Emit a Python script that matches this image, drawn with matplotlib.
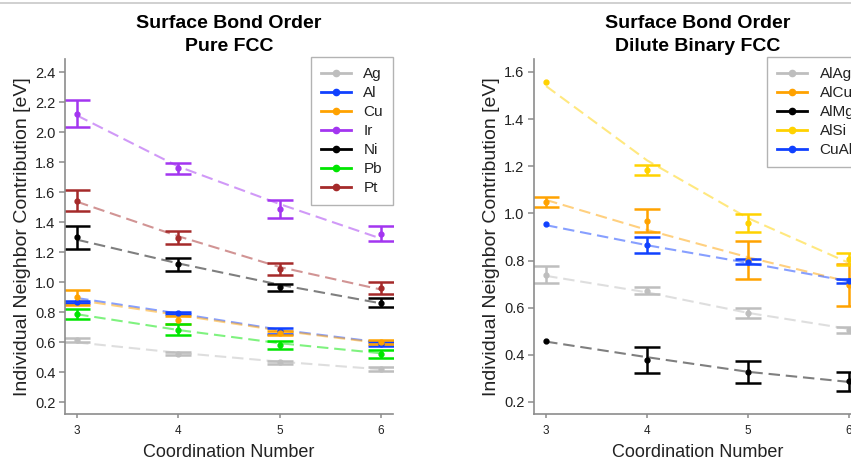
import matplotlib
matplotlib.use("Agg")
import matplotlib.pyplot as plt
from matplotlib.lines import Line2D
import numpy as np

plt.rcParams['font.family'] = ['Liberation Sans', 'DejaVu Sans']

cn = [3, 4, 5, 6]

# pure FCC metals: mean, error half-width, fitted curve
pure_names = ["Ag", "Al", "Cu", "Ir", "Ni", "Pb", "Pt"]
pure_colors = ["#bebebe", "#1041ff", "#ffa200", "#a335f0", "#000000", "#00e600", "#a52a2a"]
ag_mean = [0.613, 0.523, 0.464, 0.420]
ag_err = [0.015, 0.012, 0.011, 0.011]
ag_fit = [0.597, 0.528, 0.469, 0.418]
al_mean = [0.865, 0.792, 0.672, 0.588]
al_err = [0.008, 0.008, 0.020, 0.015]
al_fit = [0.893, 0.790, 0.682, 0.597]
cu_mean = [0.900, 0.747, 0.662, 0.600]
cu_err = [0.050, 0.027, 0.012, 0.013]
cu_fit = [0.880, 0.780, 0.676, 0.592]
ir_mean = [2.122, 1.758, 1.488, 1.322]
ir_err = [0.089, 0.036, 0.061, 0.050]
ir_fit = [2.110, 1.770, 1.520, 1.290]
ni_mean = [1.298, 1.118, 0.965, 0.862]
ni_err = [0.075, 0.045, 0.025, 0.030]
ni_fit = [1.282, 1.124, 0.982, 0.858]
pb_mean = [0.787, 0.682, 0.580, 0.520]
pb_err = [0.035, 0.037, 0.029, 0.026]
pb_fit = [0.785, 0.680, 0.592, 0.525]
pt_mean = [1.542, 1.295, 1.085, 0.960]
pt_err = [0.070, 0.042, 0.040, 0.037]
pt_fit = [1.535, 1.305, 1.100, 0.950]

# dilute binary FCC alloys
dilute_names = ["AlAg", "AlCu", "AlMg", "AlSi", "CuAl"]
dilute_colors = ["#bebebe", "#ffa200", "#000000", "#ffd200", "#1041ff"]
alag_mean = [0.739, 0.672, 0.576, 0.505]
alag_err = [0.036, 0.015, 0.021, 0.012]
alag_fit = [0.735, 0.665, 0.578, 0.510]
alcu_mean = [1.050, 0.968, 0.803, 0.696]
alcu_err = [0.021, 0.049, 0.081, 0.090]
alcu_fit = [1.057, 0.930, 0.814, 0.710]
almg_mean = [0.460, 0.380, 0.326, 0.288]
almg_err = [0.0, 0.055, 0.046, 0.040]
almg_fit = [0.456, 0.390, 0.328, 0.285]
alsi_mean = [1.559, 1.184, 0.960, 0.806]
alsi_err = [0.0, 0.021, 0.038, 0.024]
alsi_fit = [1.540, 1.225, 0.980, 0.790]
cual_mean = [0.955, 0.866, 0.795, 0.713]
cual_err = [0.0, 0.035, 0.011, 0.010]
cual_fit = [0.950, 0.865, 0.790, 0.712]

pure_series = [(ag_mean, ag_err, ag_fit), (al_mean, al_err, al_fit), (cu_mean, cu_err, cu_fit),
               (ir_mean, ir_err, ir_fit), (ni_mean, ni_err, ni_fit), (pb_mean, pb_err, pb_fit),
               (pt_mean, pt_err, pt_fit)]
dilute_series = [(alag_mean, alag_err, alag_fit), (alcu_mean, alcu_err, alcu_fit),
                 (almg_mean, almg_err, almg_fit), (alsi_mean, alsi_err, alsi_fit),
                 (cual_mean, cual_err, cual_fit)]

SPINE = "#8c8c8c"


def draw_panel(ax, title, names, colors, series, ylim, yticks, leg_x=1.0):
    for (mean, err, fit), c in zip(series, colors):
        ax.plot(cn, fit, color=c, alpha=0.5, lw=1.5, dashes=(5.5, 2.8), zorder=1)
    for (mean, err, fit), c in zip(series, colors):
        x = np.array(cn, dtype=float)
        m = np.array(mean)
        e = np.array(err)
        has = e > 0
        ax.errorbar(x[has], m[has], yerr=e[has], fmt='none', ecolor=c, elinewidth=1.8,
                    capsize=9.5, capthick=1.8, zorder=2)
        ax.plot(x, m, 'o', color=c, markersize=3.5, zorder=3)

    ax.set_xlim(2.88, 6.12)
    ax.set_ylim(*ylim)
    ax.set_xticks(cn)
    ax.set_yticks(yticks)
    ax.set_yticklabels([f"{t:.1f}" for t in yticks])
    for s in ("top", "right"):
        ax.spines[s].set_visible(False)
    for s in ("left", "bottom"):
        ax.spines[s].set_color(SPINE)
        ax.spines[s].set_linewidth(1.2)
    ax.tick_params(axis='y', colors=SPINE, labelcolor="#222222", labelsize=10.5,
                   length=4, width=1.1, pad=3)
    ax.tick_params(axis='x', colors=SPINE, labelcolor="#222222", labelsize=8.5,
                   length=3, width=1.1, pad=5)
    ax.set_xlabel("Coordination Number", fontsize=13, color="#222222", labelpad=5)
    ax.set_ylabel("Individual Neighbor Contribution [eV]", fontsize=14, color="#222222",
                  labelpad=3)
    ax.set_title(title, fontsize=14, fontweight='bold', pad=6, linespacing=1.4)

    handles = [Line2D([], [], color=c, lw=2, marker='o', markersize=4.5) for c in colors]
    leg = ax.legend(handles, names, loc='upper right', bbox_to_anchor=(leg_x, 1.005),
                    borderaxespad=0, fontsize=11, fancybox=False, labelspacing=0.33,
                    handlelength=2.0, handletextpad=0.8, borderpad=0.65)
    leg.get_frame().set_edgecolor("#a0a0a0")
    leg.get_frame().set_linewidth(1.0)
    for t in leg.get_texts():
        t.set_color("#222222")


W, H = 851, 463
fig = plt.figure(figsize=(W / 100, H / 100), dpi=100)
ax1 = fig.add_axes([65 / W, 1 - 414 / H, (393 - 65) / W, (414 - 59) / H])
ax2 = fig.add_axes([534 / W, 1 - 414 / H, (861 - 534) / W, (414 - 59) / H])

draw_panel(ax1, "Surface Bond Order\nPure FCC", pure_names, pure_colors, pure_series,
           (0.12, 2.487), np.arange(0.2, 2.41, 0.2))
draw_panel(ax2, "Surface Bond Order\nDilute Binary FCC", dilute_names, dilute_colors,
           dilute_series, (0.149, 1.655), np.arange(0.2, 1.61, 0.2), leg_x=1.01)

fig.add_artist(Line2D([0, 1], [1 - 2.5 / H, 1 - 2.5 / H], transform=fig.transFigure,
                      color="#c8c8c8", lw=1.2))

fig.savefig("out.png", dpi=100)
